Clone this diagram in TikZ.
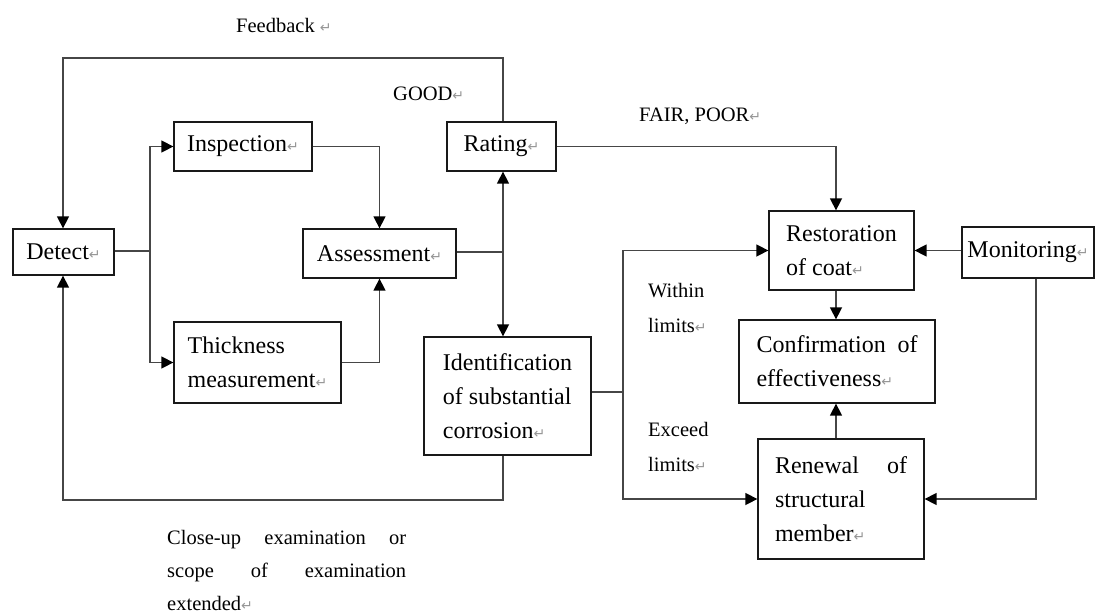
\documentclass[tikz,border=0pt]{standalone}
\usepackage{fontspec}
\setmainfont{Liberation Serif}
\newfontfamily\symfont{DejaVu Sans}
\usetikzlibrary{arrows.meta}
\definecolor{retgray}{RGB}{150,150,150}
\definecolor{linegray}{RGB}{70,70,70}
\newcommand\retmark{{\symfont\fontsize{14}{14}\selectfont\textcolor{retgray}{↵}}}
\begin{document}
\begin{tikzpicture}[x=1pt,y=-1pt,
  box/.style={draw=black!90,line width=1.3pt,inner sep=0pt,font=\fontsize{24}{34}\selectfont,align=left},
  lbl/.style={inner sep=0pt,font=\fontsize{20.5}{35}\selectfont,anchor=base west,align=left},
  conn/.style={draw=linegray,line width=1.5pt},
  arr/.style={conn,-{Triangle[length=12pt,width=12pt,color=black]}}]
\fill[white] (0,0) rectangle (1096,616);
\useasboundingbox (0,0) rectangle (1096,616);

% boxes
\node[box,minimum width=101pt,minimum height=46pt] (detect) at (63.5,252) {Detect\retmark};
\node[box,minimum width=138pt,minimum height=49pt] (insp) at (243,146.5) {Inspection\retmark};
\node[box,minimum width=109pt,minimum height=49pt] (rating) at (501.5,146.5) {Rating\retmark};
\node[box,minimum width=153pt,minimum height=49pt] (assess) at (379.5,253.5) {Assessment\retmark};
\node[box,minimum width=167pt,minimum height=81pt] (thick) at (257.5,362.5) {Thickness\\measurement\retmark};
\node[box,minimum width=167pt,minimum height=118pt] (ident) at (507.5,396) {Identification\\of substantial\\corrosion\retmark};
\node[box,minimum width=145pt,minimum height=79pt] (resto) at (841.5,250.5) {Restoration\\of coat\retmark};
\node[box,minimum width=132pt,minimum height=51pt] (monit) at (1028,252.5) {Monitoring\retmark};
\node[box,text width=161pt,inner xsep=17.5pt,minimum height=83pt] (confirm) at (837,361.5) {Confirmation\hfill of\\effectiveness\retmark};
\node[box,text width=132pt,inner xsep=17pt,minimum height=120pt] (renew) at (841,499) {Renewal\hfill of\\structural\\member\retmark};

% labels
\node[lbl] (fbtext) at (236,32) {Feedback \retmark};
\node[lbl] (good) at (393,100) {GOOD\retmark};
\node[lbl] (fair) at (639,121) {FAIR, POOR\retmark};
\node[lbl] (within) at (648,332) {Within\\limits\retmark};
\node[lbl] (exceed) at (648,471) {Exceed\\limits\retmark};
\node[lbl,text width=239pt,font=\fontsize{20.5}{33}\selectfont] (closeup) at (167,544) {Close-up\hfill examination\hfill or\\scope\hfill of\hfill examination\\extended\retmark};

% junctions
\coordinate (j1) at (503,252);
\coordinate (s1) at (150,251);
\coordinate (s2) at (623,392);
\coordinate (cx) at (836,0);
\coordinate (mx) at (1036,0);
\coordinate (fbL) at (63,58);
\coordinate (bl) at (63,500);

% connectors
\draw[arr] (rating.north -| j1) |- (fbL) -- (fbL |- detect.north);
\draw[conn] (s1 -| detect.east) -- (s1);
\draw[arr] (s1) |- (insp.west);
\draw[arr] (s1) |- (thick.west);
\draw[arr] (insp.east) -| (assess.north);
\draw[arr] (thick.east) -| (assess.south);
\draw[conn] (j1 -| assess.east) -- (j1);
\draw[arr] (j1) -- (j1 |- rating.south);
\draw[arr] (j1) -- (j1 |- ident.north);
\draw[arr] (rating.east) -| (cx |- resto.north);
\draw[conn] (s2 -| ident.east) -- (s2);
\draw[arr] (s2) |- (resto.west);
\draw[arr] (s2) |- (renew.west);
\draw[arr] (resto.east -| monit.west) -- (resto.east);
\draw[arr] (mx |- monit.south) |- (renew.east);
\draw[arr] (cx |- resto.south) -- (cx |- confirm.north);
\draw[arr] (cx |- renew.north) -- (cx |- confirm.south);
\draw[arr] (j1 |- ident.south) |- (bl) -- (bl |- detect.south);
\end{tikzpicture}
\end{document}
